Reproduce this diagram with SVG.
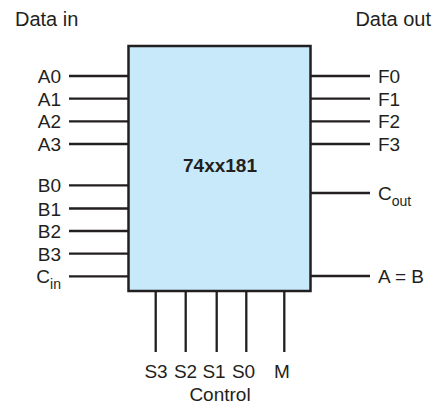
<svg xmlns="http://www.w3.org/2000/svg" width="444" height="410" viewBox="0 0 444 410">
<style>
text{font-family:"Liberation Sans",Arial,sans-serif;font-size:19px;fill:#231f20}
.l{text-anchor:end}
.m{text-anchor:middle}
.sub{font-size:14px}
.hd{font-size:20px}
.title{font-weight:bold;text-anchor:middle}
.w{stroke:#231f20;stroke-width:2.3;fill:none}
.box{fill:#c8e9f9;stroke:#231f20;stroke-width:2.5}
</style>
<rect width="444" height="410" fill="#ffffff"/>
<text class="hd" x="15" y="26">Data in</text>
<text class="hd l" x="431" y="26">Data out</text>
<g id="connectors" class="w">
<path d="M69 76H128.5M69 98.7H128.5M69 121.3H128.5M69 144H128.5M69 185.3H128.5M69 208.5H128.5M69 231H128.5M69 253.7H128.5M69 276.3H128.5"/>
<path d="M310.5 76H370M310.5 98.7H370M310.5 121.3H370M310.5 144H370M310.5 193H370M310.5 276H370"/>
<path d="M155.7 291V352M185.7 291V352M216.7 291V352M246.3 291V352M284.3 291V352"/>
</g>
<g id="alu">
<rect class="box" x="128.5" y="46" width="182" height="245"/>
<text class="title" x="220" y="172">74xx181</text>
</g>
<g id="inputs">
<text class="l" x="61" y="83">A0</text>
<text class="l" x="61" y="105.7">A1</text>
<text class="l" x="61" y="128.3">A2</text>
<text class="l" x="61" y="151">A3</text>
<text class="l" x="61" y="192.3">B0</text>
<text class="l" x="61" y="215.5">B1</text>
<text class="l" x="61" y="238">B2</text>
<text class="l" x="61" y="260.7">B3</text>
<text class="l" x="61" y="283.3">C<tspan class="sub" dy="6">in</tspan></text>
</g>
<g id="outputs">
<text x="378" y="83">F0</text>
<text x="378" y="105.7">F1</text>
<text x="378" y="128.3">F2</text>
<text x="378" y="151">F3</text>
<text x="378" y="200">C<tspan class="sub" dy="6">out</tspan></text>
<text x="378" y="283">A = B</text>
</g>
<g id="control">
<text class="m" x="156" y="378">S3</text>
<text class="m" x="185.5" y="378">S2</text>
<text class="m" x="214" y="378">S1</text>
<text class="m" x="243.5" y="378">S0</text>
<text class="m" x="282" y="378">M</text>
<text class="m" x="220" y="401">Control</text>
</g>
</svg>
